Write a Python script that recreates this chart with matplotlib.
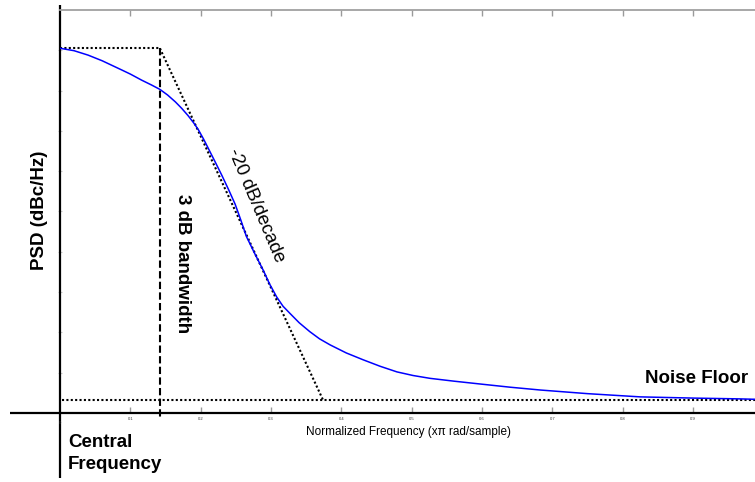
import matplotlib
matplotlib.use("Agg")
import matplotlib.pyplot as plt

plt.rcParams['font.family'] = ['Liberation Sans', 'DejaVu Sans']

# Measured PSD curve (normalized frequency, level in grid units)
freq = [0.000, 0.020, 0.040, 0.060, 0.088, 0.100, 0.116, 0.130, 0.142, 0.153,
        0.164, 0.173, 0.182, 0.190, 0.197, 0.204, 0.211, 0.220, 0.230, 0.240,
        0.249, 0.257, 0.265, 0.277, 0.289, 0.298, 0.308, 0.317, 0.327, 0.340,
        0.355, 0.369, 0.384, 0.407, 0.431, 0.455, 0.479, 0.502, 0.526, 0.560,
        0.597, 0.640, 0.683, 0.750, 0.825, 0.900, 0.967, 0.988]
psd = [9.05, 8.99, 8.88, 8.74, 8.51, 8.41, 8.26, 8.14, 8.03, 7.89,
       7.72, 7.56, 7.38, 7.20, 7.02, 6.80, 6.56, 6.25, 5.90, 5.53,
       5.18, 4.79, 4.38, 3.95, 3.54, 3.20, 2.88, 2.65, 2.47, 2.24,
       2.02, 1.84, 1.69, 1.49, 1.32, 1.16, 1.02, 0.93, 0.86, 0.79,
       0.72, 0.64, 0.57, 0.48, 0.40, 0.37, 0.35, 0.34]

# Asymptotes and markers
peak_level = 9.05
noise_level = 0.32
corner_freq = 0.142
rolloff_end = 0.374
x_max = 0.988

xticks = [0.1, 0.2, 0.3, 0.4, 0.5, 0.6, 0.7, 0.8, 0.9]
xtick_labels = ["0.1", "0.2", "0.3", "0.4", "0.5", "0.6", "0.7", "0.8", "0.9"]
yticks = [1, 2, 3, 4, 5, 6, 7, 8, 9]

fig = plt.figure(figsize=(7.55, 4.82), dpi=100)
ax = fig.add_axes([60 / 755, 69 / 482, 695 / 755, 403 / 482])
ax.set_xlim(0, x_max)
ax.set_ylim(0, 10)
for s in ax.spines.values():
    s.set_visible(False)

# frame lines
ax.plot([-0.072, 1.0], [0, 0], transform=ax.transAxes, color='black', lw=1.6,
        clip_on=False, solid_capstyle='butt')
ax.plot([0, 0], [-0.161, 1.012], transform=ax.transAxes, color='black', lw=1.6,
        clip_on=False, solid_capstyle='butt')
ax.plot([0, 1.0], [1.0, 1.0], transform=ax.transAxes, color='#a0a0a0', lw=1.3,
        clip_on=False)

# ticks
ax.set_xticks(xticks)
ax.set_xticklabels(xtick_labels)
ax.tick_params(axis='x', which='both', direction='in', length=4.5, width=1.0,
               color='#9a9a9a', top=True, bottom=True, labelsize=3,
               labelcolor='#333333', pad=3)
ax.set_yticks(yticks)
ax.set_yticklabels([])
ax.tick_params(axis='y', direction='inout', length=3, width=0.8, color='#c8c8c8')
ax.text(0, -0.19, "0", fontsize=3, color='#333333', ha='center', va='top')

dot = (0, (1, 1.1))
# flat top and -20 dB/decade asymptote
ax.plot([0, corner_freq], [peak_level, peak_level], color='black', lw=1.5,
        linestyle=dot, clip_on=False)
ax.plot([corner_freq, rolloff_end], [peak_level, noise_level], color='black',
        lw=1.5, linestyle=dot)
# noise floor
ax.plot([0.003, x_max], [noise_level, noise_level], color='black', lw=1.5,
        linestyle=dot)
# 3 dB bandwidth marker
ax.plot([corner_freq, corner_freq], [peak_level, -0.13], color='black', lw=1.5,
        dashes=(3.5, 1.6), clip_on=False)

# PSD curve
ax.plot(freq, psd, color='#0000ff', lw=1.1)

# labels
ax.text(-0.029, 5.04, "PSD (dBc/Hz)", rotation=90, fontsize=13.5,
        fontweight='bold', ha='center', va='center', clip_on=False)
ax.text(0.1735, 3.70, "3 dB bandwidth", rotation=-90, fontsize=13.5,
        fontweight='bold', ha='center', va='center')
ax.text(0.279, 5.16, "-20 dB/decade", rotation=-67, fontsize=13.5,
        ha='center', va='center', rotation_mode='anchor')
ax.text(0.978, 0.744, "Noise Floor", fontsize=13.5, fontweight='bold',
        ha='right', va='baseline')
ax.text(0.0114, -0.52, "Central\nFrequency", fontsize=13.5, fontweight='bold',
        ha='left', va='top', linespacing=1.38, clip_on=False)
ax.text(0.496, -0.47, "Normalized Frequency (x\u03c0 rad/sample)", fontsize=8.5,
        ha='center', va='center', clip_on=False)

fig.savefig("out.png", dpi=100)
